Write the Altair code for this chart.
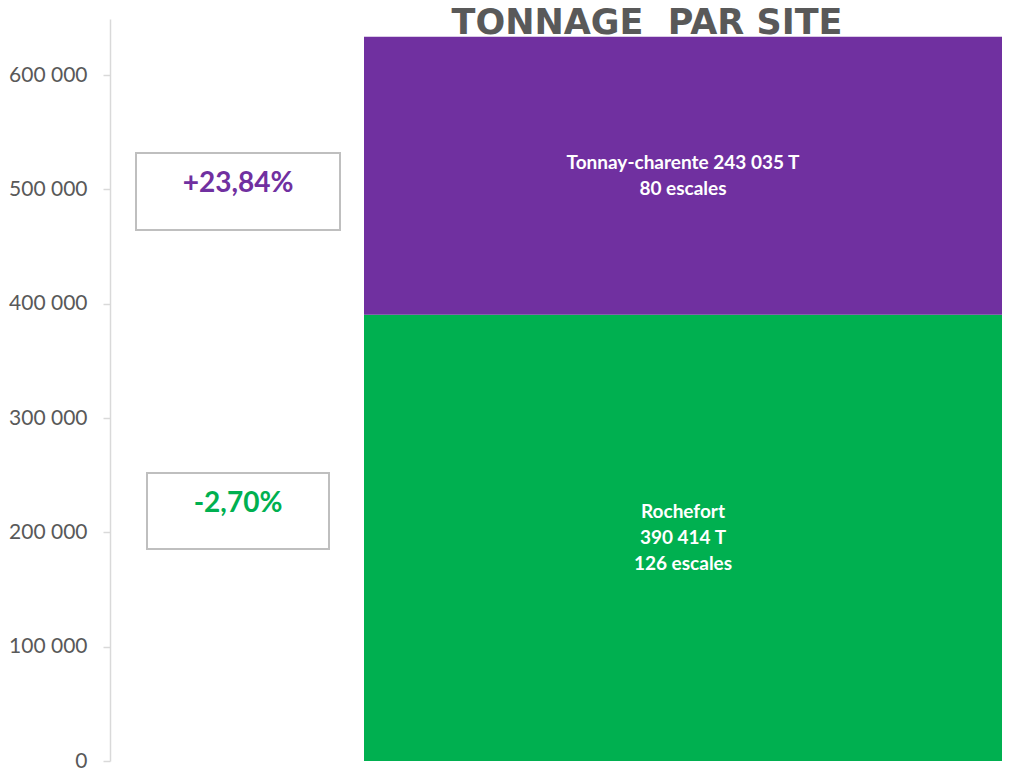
import altair as alt
import pandas as pd

# ---- data ----
sites = ["Rochefort", "Tonnay-charente"]
tonnage = [390414, 243035]
escales = [126, 80]
stack_order = [1, 2]
bar_labels = ["Rochefort\n390 414 T\n126 escales", "Tonnay-charente 243 035 T\n80 escales"]
label_lines = [3, 2]
site_colors = ["#00B050", "#7030A0"]
variation_tonnay = "+23,84%"
variation_rochefort = "-2,70%"
y_ticks = [0, 100000, 200000, 300000, 400000, 500000, 600000]
title_text = "TONNAGE \u00a0PAR SITE"

df = pd.DataFrame({
    "site": sites,
    "tonnage": tonnage,
    "escales": escales,
    "ordre": stack_order,
    "label": bar_labels,
    "lines": label_lines,
    "groupe": ["Tonnage"] * len(sites),
})

yscale = alt.Scale(domain=[0, 649000], nice=False, zero=True)
xscale = alt.Scale(type="band", domain=["Tonnage"], paddingInner=0, paddingOuter=0.19906, align=1)
cscale = alt.Scale(domain=sites, range=site_colors)
yaxis = alt.Axis(values=y_ticks, title=None, grid=False,
                 labelExpr="replace(format(datum.value, ','), ',', ' ')")

title_layer = alt.Chart(pd.DataFrame({"t": [title_text]})).mark_text(
    font="DejaVu Sans", fontSize=35, fontWeight="bold", color="#595959",
    align="center", baseline="alphabetic"
).encode(text="t:N", x=alt.value(537), y=alt.value(15))

bars = alt.Chart(df).mark_bar(strokeWidth=0).encode(
    x=alt.X("groupe:N", scale=xscale, axis=None),
    y=alt.Y("tonnage:Q", stack="zero", scale=yscale, axis=yaxis),
    color=alt.Color("site:N", scale=cscale, legend=None),
    order=alt.Order("ordre:Q"),
)

text_base = alt.Chart(df).transform_stack(
    stack="tonnage", groupby=["groupe"], as_=["y0", "y1"],
    sort=[alt.SortField("ordre", order="ascending")]
).transform_calculate(
    mid="(datum.y0 + datum.y1) / 2"
)


def bar_text(n):
    return text_base.transform_filter(alt.datum.lines == n).mark_text(
        font="Lato", fontSize=19, fontWeight="bold", color="white",
        lineBreak="\n", lineHeight=26, align="center", baseline="middle",
        dy=-(n - 1) * 13,
    ).encode(
        x=alt.X("groupe:N", scale=xscale, axis=None),
        y=alt.Y("mid:Q", scale=yscale, axis=yaxis),
        text="label:N",
    )


box1_df = pd.DataFrame({"v": [variation_tonnay]})
box2_df = pd.DataFrame({"v": [variation_rochefort]})

box1 = alt.Chart(box1_df).mark_rect(fill="white", stroke="#BFBFBF", strokeWidth=2).encode(
    x=alt.value(26), x2=alt.value(230), y=alt.value(134), y2=alt.value(211))
box1_text = alt.Chart(box1_df).mark_text(
    font="Lato", fontSize=28, fontWeight="bold", color="#7030A0", align="center", baseline="middle"
).encode(text="v:N", x=alt.value(128), y=alt.value(165))

box2 = alt.Chart(box2_df).mark_rect(fill="white", stroke="#BFBFBF", strokeWidth=2).encode(
    x=alt.value(37), x2=alt.value(219), y=alt.value(454), y2=alt.value(530))
box2_text = alt.Chart(box2_df).mark_text(
    font="Lato", fontSize=28, fontWeight="bold", color="#00B050", align="center", baseline="middle"
).encode(text="v:N", x=alt.value(128), y=alt.value(485))

chart = alt.layer(bars, bar_text(2), bar_text(3), box1, box1_text, box2, box2_text, title_layer).properties(
    width=892, height=742,
    autosize=alt.AutoSizeParams(type="none"),
    padding={"left": 102, "top": 11, "right": 0, "bottom": 10},
    background="white",
).configure_view(strokeWidth=0).configure_axis(
    domainColor="#D9D9D9", domainWidth=1.5, tickColor="#D9D9D9", tickWidth=1.5, tickSize=7,
    labelFont="Lato", labelFontSize=21, labelColor="#595959", labelPadding=16,
)

chart.save("out.html", embed_options={"renderer": "svg", "actions": False})
